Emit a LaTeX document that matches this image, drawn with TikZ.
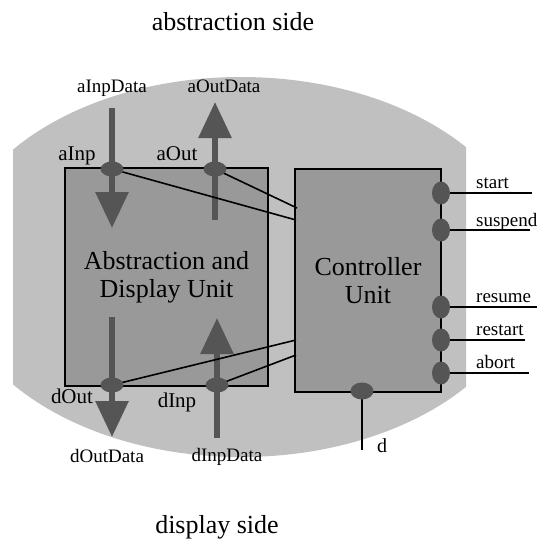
\documentclass[tikz,border=0pt]{standalone}
\usepackage{fontspec}
\setmainfont{Liberation Serif}
\usetikzlibrary{shapes.geometric,arrows.meta}
\definecolor{bgray}{RGB}{192,192,192}
\definecolor{boxgray}{RGB}{153,153,153}
\definecolor{dgray}{RGB}{85,85,85}
\tikzset{
 unitbox/.style={draw=black,line width=1.8pt,fill=boxgray,inner sep=0pt,align=center,font=\fontsize{26}{28}\selectfont},
 hport/.style={ellipse,fill=dgray,minimum width=23pt,minimum height=15pt,inner sep=0pt},
 vport/.style={ellipse,fill=dgray,minimum width=18pt,minimum height=23pt,inner sep=0pt},
 dataflow/.style={draw=dgray,fill=dgray,line width=6pt,-{Triangle[width=32pt,length=36pt]}},
 wire/.style={draw=black,line width=1.6pt},
 portlabel/.style={font=\fontsize{21}{24}\selectfont,anchor=base,inner sep=0pt},
 datalabel/.style={font=\fontsize{19}{22}\selectfont,anchor=base,inner sep=0pt},
 sidelabel/.style={font=\fontsize{26}{28}\selectfont,anchor=base,inner sep=0pt},
 siglabel/.style={font=\fontsize{19}{22}\selectfont,anchor=base west,inner sep=0pt},
}
\begin{document}
\begin{tikzpicture}[x=1pt,y=-1pt]
\useasboundingbox (0,0) rectangle (537,542);
% background region
\begin{scope}
\clip (13,0) rectangle (466,542);
\fill[bgray] (241,267) ellipse [x radius=290pt, y radius=190pt];
\end{scope}
% units
\node[unitbox,minimum width=203pt,minimum height=218pt] (adu) at (166.5,277) {Abstraction and\\Display Unit};
\node[unitbox,minimum width=146pt,minimum height=223pt] (cu) at (368,280.5) {Controller\\Unit};
% data flow arrows
\coordinate (ainS) at (112,108); \coordinate (ainE) at (112,228);
\coordinate (aoutS) at (215,220); \coordinate (aoutE) at (215,102);
\coordinate (doutS) at (112,317); \coordinate (doutE) at (112,437);
\coordinate (dinS) at (217,438); \coordinate (dinE) at (217,318);
\draw[dataflow] (ainS) -- (ainE);
\draw[dataflow] (aoutS) -- (aoutE);
\draw[dataflow] (doutS) -- (doutE);
\draw[dataflow] (dinS) -- (dinE);
% ports on the abstraction/display unit
\coordinate (pAin) at (112,169);
\coordinate (pAout) at (215,169);
\coordinate (pDout) at (112,385);
\coordinate (pDin) at (217,385);
% controller entry points
\coordinate (cA1) at (296,220);
\coordinate (cA2) at (297,208);
\coordinate (cD1) at (296,340);
\coordinate (cD2) at (296,355);
\draw[wire] (pAin) -- (cA1);
\draw[wire] (pAout) -- (cA2);
\draw[wire] (pDout) -- (cD1);
\draw[wire] (pDin) -- (cD2);
% controller signal lines
\coordinate (eStart) at (532,193);
\coordinate (eSusp) at (530,230);
\coordinate (eRes) at (537,307);
\coordinate (eRest) at (525,340);
\coordinate (eAbort) at (529,373);
\coordinate (eD) at (362,450);
\draw[wire] (441,193) -- (eStart);
\draw[wire] (441,230) -- (eSusp);
\draw[wire] (441,307) -- (eRes);
\draw[wire] (441,340) -- (eRest);
\draw[wire] (441,373) -- (eAbort);
\draw[wire] (362,391) -- (eD);
% port ellipses
\node[hport] (aInp) at (pAin) {};
\node[hport] (aOut) at (pAout) {};
\node[hport] (dOut) at (pDout) {};
\node[hport] (dInp) at (pDin) {};
\node[vport] (start) at (441,193) {};
\node[vport] (suspend) at (441,230) {};
\node[vport] (resume) at (441,307) {};
\node[vport] (restart) at (441,340) {};
\node[vport] (abort) at (441,373) {};
\node[hport,minimum height=17pt] (dport) at (362,391) {};
% labels
\node[sidelabel] (lAbs) at (233,30) {abstraction side};
\node[sidelabel] (lDisp) at (217,533) {display side};
\node[datalabel] (lAinD) at (112,92) {aInpData};
\node[datalabel] (lAoutD) at (224,92) {aOutData};
\node[datalabel] (lDoutD) at (107,462) {dOutData};
\node[datalabel] (lDinD) at (227,461) {dInpData};
\node[portlabel] (lAin) at (77,160) {aInp};
\node[portlabel] (lAout) at (177,160) {aOut};
\node[portlabel] (lDout) at (72,403) {dOut};
\node[portlabel] (lDin) at (177,407) {dInp};
\node[siglabel] (lStart) at (476,188) {start};
\node[siglabel] (lSusp) at (476,226) {suspend};
\node[siglabel] (lRes) at (476,302) {resume};
\node[siglabel] (lRest) at (476,335) {restart};
\node[siglabel] (lAbort) at (476,368) {abort};
\node[siglabel,font=\fontsize{20}{22}\selectfont] (lD) at (377,452) {d};
\end{tikzpicture}
\end{document}
